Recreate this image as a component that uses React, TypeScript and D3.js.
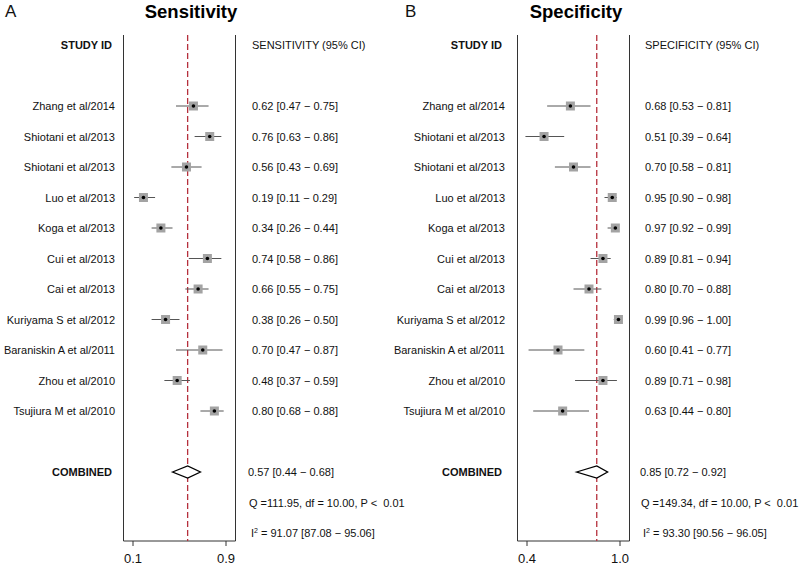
import React from "react";
import * as d3 from "d3";

const studies = [
  "Zhang et al/2014",
  "Shiotani et al/2013",
  "Shiotani et al/2013",
  "Luo et al/2013",
  "Koga et al/2013",
  "Cui et al/2013",
  "Cai et al/2013",
  "Kuriyama S et al/2012",
  "Baraniskin A et al/2011",
  "Zhou et al/2010",
  "Tsujiura M et al/2010",
];

const sensEst = [0.62, 0.76, 0.56, 0.19, 0.34, 0.74, 0.66, 0.38, 0.70, 0.48, 0.80];
const sensLo = [0.47, 0.63, 0.43, 0.11, 0.26, 0.58, 0.55, 0.26, 0.47, 0.37, 0.68];
const sensHi = [0.75, 0.86, 0.69, 0.29, 0.44, 0.86, 0.75, 0.50, 0.87, 0.59, 0.88];
const sensCombined = [0.57, 0.44, 0.68];
const sensQ = "Q =111.95, df = 10.00, P <\u00a0 0.01";
const sensI2 = "91.07 [87.08 \u2212 95.06]";
const sensTicks = [0.1, 0.9];

const specEst = [0.68, 0.51, 0.70, 0.95, 0.97, 0.89, 0.80, 0.99, 0.60, 0.89, 0.63];
const specLo = [0.53, 0.39, 0.58, 0.90, 0.92, 0.81, 0.70, 0.96, 0.41, 0.71, 0.44];
const specHi = [0.81, 0.64, 0.81, 0.98, 0.99, 0.94, 0.88, 1.00, 0.77, 0.98, 0.80];
const specCombined = [0.85, 0.72, 0.92];
const specQ = "Q =149.34, df = 10.00, P <\u00a0 0.01";
const specI2 = "93.30 [90.56 \u2212 96.05]";
const specTicks = [0.4, 1.0];

const FONT = "Liberation Sans, Arial, Helvetica, sans-serif";

type PanelProps = {
  letter: string;
  title: string;
  header: string;
  est: number[];
  lo: number[];
  hi: number[];
  combined: number[];
  q: string;
  i2: string;
  ticks: number[];
  offsetX: number;
  tickPx: [number, number];
  boxL: number;
  boxR: number;
  labelX: number;
  valueX: number;
  statX: number;
  titleX: number;
};

const f2 = (v: number) => v.toFixed(2);

function Panel(p: PanelProps) {
  const x = d3.scaleLinear().domain(p.ticks).range(p.tickPx);
  const y = d3.scaleLinear().domain([0, 1]).range([106, 136.5]);
  const top = 35;
  const bottom = 541;
  const ox = p.offsetX;
  const textStyle = { fontFamily: FONT, fontSize: 11, fill: "#111" } as const;
  return (
    <g transform={`translate(${ox},0)`}>
      <text x={5} y={17} style={{ fontFamily: FONT, fontSize: 17, fill: "#111" }}>
        {p.letter}
      </text>
      <text
        x={p.titleX}
        y={18}
        textAnchor="middle"
        style={{ fontFamily: FONT, fontSize: 18.5, fontWeight: "bold", fill: "#000" }}
      >
        {p.title}
      </text>
      <text x={p.labelX} y={y(-2) + 4} textAnchor="end" style={{ ...textStyle, fontWeight: "bold" }}>
        STUDY ID
      </text>
      <text x={p.valueX} y={y(-2) + 4} style={textStyle}>
        {p.header}
      </text>
      <line x1={p.boxL} x2={p.boxL} y1={top} y2={bottom} stroke="#333" strokeWidth={1} />
      <line x1={p.boxR} x2={p.boxR} y1={top} y2={bottom} stroke="#333" strokeWidth={1} />
      <line x1={p.boxL} x2={p.boxR} y1={bottom} y2={bottom} stroke="#333" strokeWidth={1} />
      {p.ticks.map((t) => (
        <g key={t}>
          <line x1={x(t)} x2={x(t)} y1={bottom} y2={bottom + 5} stroke="#333" />
          <text x={x(t)} y={563} textAnchor="middle" style={{ fontFamily: FONT, fontSize: 13, fill: "#111" }}>
            {t.toFixed(1)}
          </text>
        </g>
      ))}
      <line
        x1={x(p.combined[0])}
        x2={x(p.combined[0])}
        y1={top}
        y2={bottom}
        stroke="#b5303c"
        strokeWidth={1.3}
        strokeDasharray="6,3"
      />
      {studies.map((s, i) => {
        const cy = y(i);
        const cx = x(p.est[i]);
        return (
          <g key={i}>
            <text x={p.labelX + 3} y={cy + 4} textAnchor="end" style={textStyle}>
              {s}
            </text>
            <line x1={x(p.lo[i])} x2={x(p.hi[i])} y1={cy} y2={cy} stroke="#555" strokeWidth={1} />
            <rect x={cx - 4.5} y={cy - 4.5} width={9} height={9} fill="#a3a3a3" />
            <circle cx={cx} cy={cy} r={1.8} fill="#000" />
            <text x={p.valueX} y={cy + 4} style={textStyle}>
              {`${f2(p.est[i])} [${f2(p.lo[i])} \u2212 ${f2(p.hi[i])}]`}
            </text>
          </g>
        );
      })}
      <text x={p.labelX} y={y(12) + 4} textAnchor="end" style={{ ...textStyle, fontWeight: "bold" }}>
        COMBINED
      </text>
      <path
        d={`M${x(p.combined[1])},${y(12)} L${x(p.combined[0])},${y(12) - 6} L${x(p.combined[2])},${y(12)} L${x(
          p.combined[0]
        )},${y(12) + 6} Z`}
        fill="#fff"
        stroke="#000"
        strokeWidth={1.3}
      />
      <text x={p.statX} y={y(12) + 4} style={textStyle}>
        {`${f2(p.combined[0])} [${f2(p.combined[1])} \u2212 ${f2(p.combined[2])}]`}
      </text>
      <text x={p.statX + 1} y={y(13) + 4} style={textStyle}>
        {p.q}
      </text>
      <text x={p.statX + 3} y={y(14) + 4} style={textStyle}>
        I<tspan dy={-4} style={{ fontSize: 7 }}>2</tspan>
        <tspan dy={4}>{` = ${p.i2}`}</tspan>
      </text>
    </g>
  );
}

export default function App() {
  return (
    <svg
      width={800}
      height={568}
      style={{ position: "absolute", left: 0, top: 0, background: "#fff" }}
    >
      <rect width={800} height={568} fill="#fff" />
      <Panel
        letter="A"
        title="Sensitivity"
        header="SENSITIVITY (95% CI)"
        est={sensEst}
        lo={sensLo}
        hi={sensHi}
        combined={sensCombined}
        q={sensQ}
        i2={sensI2}
        ticks={sensTicks}
        offsetX={0}
        tickPx={[133, 226]}
        boxL={123.5}
        boxR={235.5}
        labelX={112}
        valueX={252}
        statX={248}
        titleX={191}
      />
      <Panel
        letter="B"
        title="Specificity"
        header="SPECIFICITY (95% CI)"
        est={specEst}
        lo={specLo}
        hi={specHi}
        combined={specCombined}
        q={specQ}
        i2={specI2}
        ticks={specTicks}
        offsetX={400}
        tickPx={[127, 220]}
        boxL={117.5}
        boxR={229.5}
        labelX={102}
        valueX={245}
        statX={240}
        titleX={176}
      />
    </svg>
  );
}
